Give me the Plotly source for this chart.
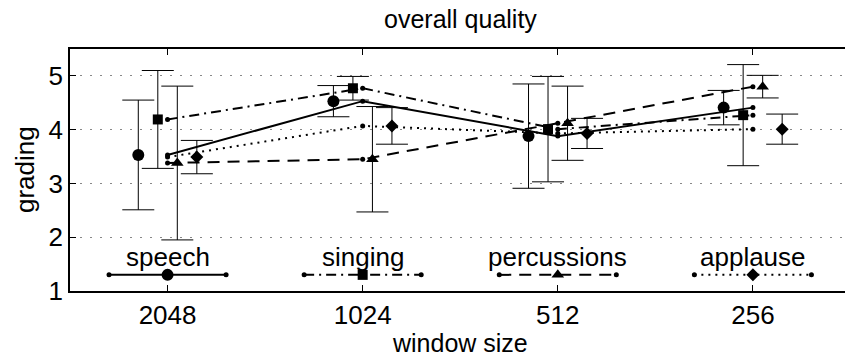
import plotly.graph_objects as go

# ---------------- data ----------------
window_labels = ["2048", "1024", "512", "256"]
categories = ["speech", "singing", "percussions", "applause"]

speech_mean = [3.53, 4.53, 3.88, 4.41]
speech_err = [1.02, 0.29, 0.97, 0.32]
singing_mean = [4.19, 4.77, 4.01, 4.27]
singing_err = [0.91, 0.22, 0.98, 0.94]
percussions_mean = [3.38, 3.45, 4.12, 4.80]
percussions_err = [1.43, 0.98, 0.69, 0.21]
applause_mean = [3.49, 4.07, 3.93, 4.01]
applause_err = [0.31, 0.34, 0.28, 0.28]

legend_level = 1.3

# ---------------- styles ----------------
means = [speech_mean, singing_mean, percussions_mean, applause_mean]
errs = [speech_err, singing_err, percussions_err, applause_err]
symbols = ["circle", "square", "triangle-up", "diamond"]
sizes = [12, 10, 11, 10]
dashes = ["solid", "10px,5px,2px,5px", "12px,8px", "2px,5px"]
offsets = [-0.15, -0.05, 0.05, 0.15]
legend_half = 0.3
FONT = "Liberation Sans, Arial, Helvetica, sans-serif"

xs = list(range(1, len(window_labels) + 1))

fig = go.Figure()

for k in range(len(categories)):
    # connecting line with small dots at the window positions
    fig.add_trace(go.Scatter(
        x=xs, y=means[k], mode="lines+markers",
        line=dict(color="black", width=2, dash=dashes[k]),
        marker=dict(color="black", size=5, symbol="circle"),
        showlegend=False, hoverinfo="skip"))

for k in range(len(categories)):
    # offset markers with error bars
    fig.add_trace(go.Scatter(
        x=[x + offsets[k] for x in xs], y=means[k], mode="markers",
        marker=dict(color="black", size=sizes[k], symbol=symbols[k]),
        error_y=dict(type="data", array=errs[k], visible=True,
                     color="black", thickness=1, width=16),
        showlegend=False))

for k, name in enumerate(categories):
    c = xs[k]
    fig.add_trace(go.Scatter(
        x=[c - legend_half, c + legend_half], y=[legend_level, legend_level],
        mode="lines+markers",
        line=dict(color="black", width=2, dash=dashes[k]),
        marker=dict(color="black", size=5),
        showlegend=False, hoverinfo="skip"))
    fig.add_trace(go.Scatter(
        x=[c], y=[legend_level], mode="markers",
        marker=dict(color="black", size=sizes[k], symbol=symbols[k]),
        showlegend=False))
    fig.add_annotation(x=c, y=1.64, xref="x", yref="y", text=name,
                       showarrow=False, xanchor="center", yanchor="middle",
                       font=dict(family=FONT, size=26, color="black"))

# titles
fig.add_annotation(x=2.5, xref="x", y=1.122, yref="paper", text="overall quality",
                   showarrow=False, xanchor="center", yanchor="middle",
                   font=dict(family=FONT, size=25, color="black"))
fig.add_annotation(x=2.5, xref="x", y=-0.214, yref="paper", text="window size",
                   showarrow=False, xanchor="center", yanchor="middle",
                   font=dict(family=FONT, size=25, color="black"))
fig.add_annotation(x=-45 / 775, xref="paper", y=0.5, yref="paper", text="grading",
                   textangle=-90, showarrow=False, xanchor="center", yanchor="middle",
                   font=dict(family=FONT, size=26, color="black"))

fig.update_layout(
    width=845, height=360,
    margin=dict(l=70, r=0, t=49, b=69),
    paper_bgcolor="white", plot_bgcolor="white",
    font=dict(family=FONT, size=26, color="black"),
)
fig.update_xaxes(
    range=[0.5, 4.472], tickvals=xs, ticktext=window_labels,
    ticks="inside", ticklen=6, tickcolor="black", showline=True, linecolor="black",
    linewidth=1.5, mirror="ticks", showgrid=False, zeroline=False,
    tickfont=dict(family=FONT, size=26, color="black"))
fig.update_yaxes(
    range=[1, 5.5], tickvals=[1, 2, 3, 4, 5],
    ticks="inside", ticklen=6, tickcolor="black", showline=True, linecolor="black",
    linewidth=1.5, mirror=False, showgrid=True, gridcolor="#888888",
    griddash="2px,8px", gridwidth=1, zeroline=False,
    tickfont=dict(family=FONT, size=26, color="black"))

fig.write_html("out.html")
